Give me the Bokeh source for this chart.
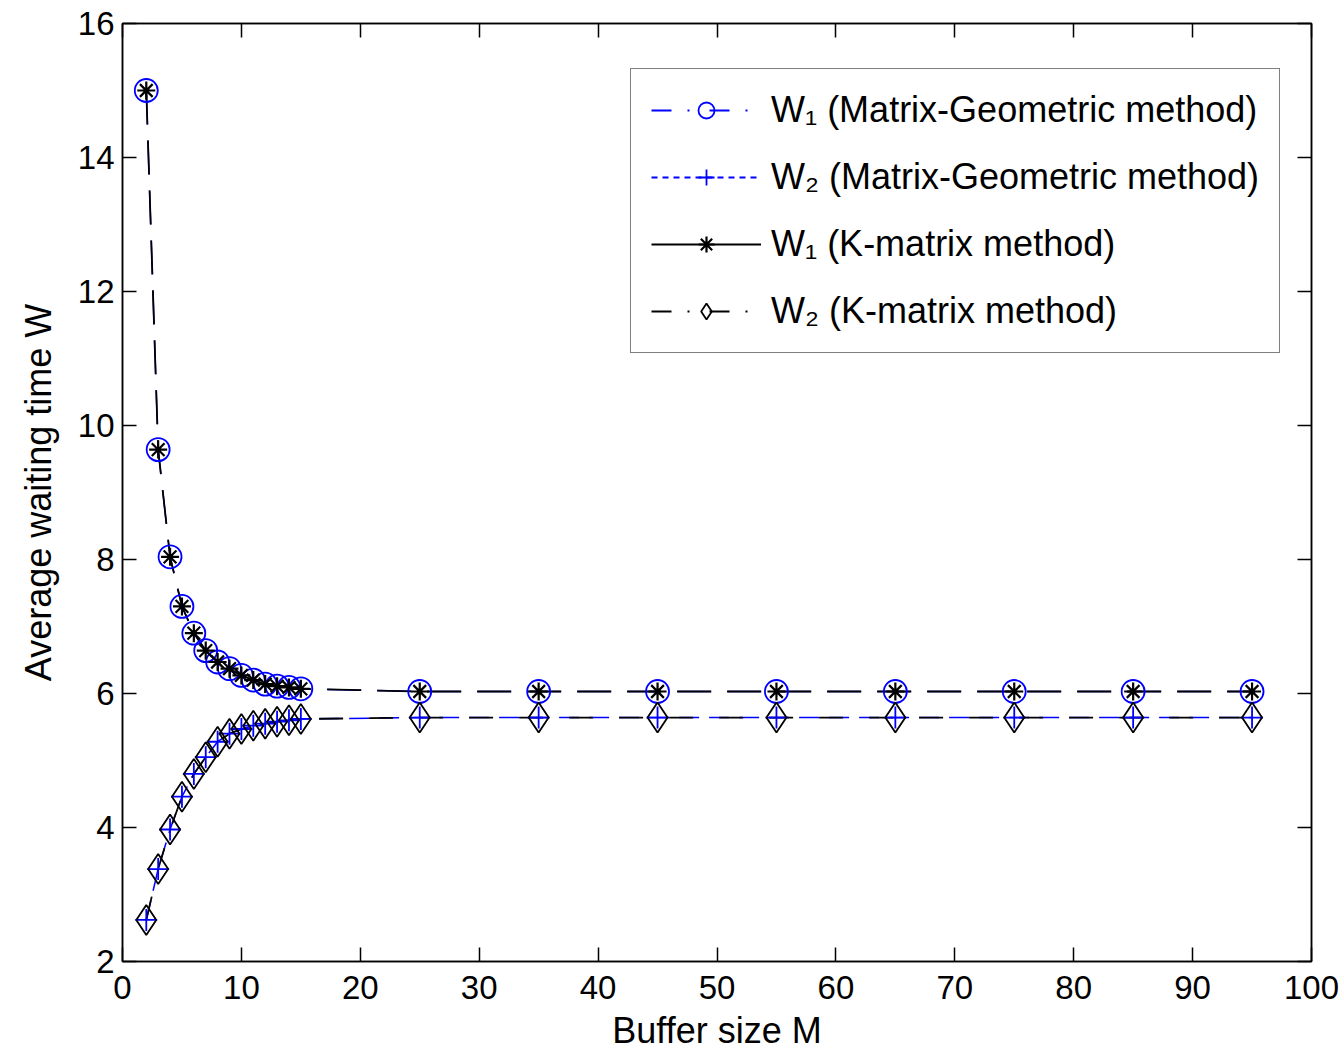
from bokeh.plotting import figure
from bokeh.models import ColumnDataSource, Legend, LegendItem, LinearAxis, Range1d, FixedTicker
from bokeh.embed import file_html
from bokeh.resources import INLINE

# ---- data ----
M = [2, 3, 4, 5, 6, 7, 8, 9, 10, 11, 12, 13, 14, 15, 25, 35, 45, 55, 65, 75, 85, 95]
W1_mg = [15.0, 9.64, 8.04, 7.30, 6.90, 6.64, 6.47, 6.37, 6.27, 6.20, 6.14, 6.11, 6.09, 6.07,
         6.03, 6.03, 6.03, 6.03, 6.03, 6.03, 6.03, 6.03]
W2_mg = [2.62, 3.38, 3.97, 4.46, 4.80, 5.05, 5.28, 5.40, 5.47, 5.52, 5.55, 5.58, 5.60, 5.62,
         5.64, 5.64, 5.64, 5.64, 5.64, 5.64, 5.64, 5.64]
W1_k = list(W1_mg)
W2_k = list(W2_mg)
x_ticks = [0, 10, 20, 30, 40, 50, 60, 70, 80, 90, 100]
y_ticks = [2, 4, 6, 8, 10, 12, 14, 16]
labels = ["W\u2081 (Matrix-Geometric method)", "W\u2082 (Matrix-Geometric method)",
          "W\u2081 (K-matrix method)", "W\u2082 (K-matrix method)"]

FONT = "Liberation Sans"

src = ColumnDataSource(dict(M=M, w1mg=W1_mg, w2mg=W2_mg, w1k=W1_k, w2k=W2_k))
nan_src = ColumnDataSource(dict(x=[float("nan")], y=[float("nan")]))

p = figure(frame_width=1189, frame_height=938, output_backend="svg", toolbar_location=None,
           x_range=Range1d(0, 100), y_range=Range1d(2, 16),
           min_border_left=122, min_border_right=30, min_border_top=23, min_border_bottom=90)
p.background_fill_color = "white"
p.border_fill_color = "white"
p.outline_line_color = "black"
p.outline_line_width = 1.5
p.xgrid.visible = False
p.ygrid.visible = False

for ax in (p.xaxis[0], p.yaxis[0]):
    ax.major_tick_in = 14
    ax.major_tick_out = 0
    ax.minor_tick_line_color = None
    ax.axis_line_width = 1.5
    ax.major_tick_line_width = 1.5
    ax.major_label_text_font = FONT
    ax.major_label_text_font_size = "33px"
    ax.major_label_text_color = "black"
    ax.axis_label_text_font = FONT
    ax.axis_label_text_font_size = "36px"
    ax.axis_label_text_font_style = "normal"
    ax.axis_label_text_color = "black"

p.xaxis.ticker = FixedTicker(ticks=x_ticks)
p.yaxis.ticker = FixedTicker(ticks=y_ticks)
p.xaxis.axis_label = "Buffer size M"
p.yaxis.axis_label = "Average waiting time W"
p.xaxis.major_label_standoff = 14
p.xaxis.axis_label_standoff = 8
p.yaxis.major_label_standoff = 8
p.yaxis.axis_label_standoff = 16

for loc, ticks in (("above", x_ticks), ("right", y_ticks)):
    a = LinearAxis(ticker=FixedTicker(ticks=ticks), major_tick_in=14, major_tick_out=0,
                   minor_tick_line_color=None, major_label_text_color=None,
                   major_label_text_font_size="8px",
                   major_label_standoff=0, axis_line_width=1.5, major_tick_line_width=1.5)
    p.add_layout(a, loc)

# lines (plot)
p.line("M", "w1mg", source=src, line_color="blue", line_width=1.5, line_dash="34 16")
p.line("M", "w2mg", source=src, line_color="blue", line_width=1.5, line_dash="20 10")
p.line("M", "w1k", source=src, line_color="black", line_width=1.8, line_dash="34 16")
p.line("M", "w2k", source=src, line_color="black", line_width=1.8, line_dash="24 26")

# markers
r1 = p.scatter("M", "w1mg", source=src, marker="circle", size=23, fill_color=None,
               line_color="blue", line_width=1.8)
r2 = p.scatter("M", "w2mg", source=src, marker="cross", size=22,
               line_color="blue", line_width=1.8)
r3 = p.scatter("M", "w1k", source=src, marker="asterisk", size=18,
               line_color="black", line_width=2.2)
r4 = p.scatter("M", "w2k", source=src, marker="diamond", size=30, fill_color=None,
               line_color="black", line_width=1.8)

# legend-only line styles
g1 = p.line("x", "y", source=nan_src, line_color="blue", line_width=1.8, line_dash="20 16 2 20")
g2 = p.line("x", "y", source=nan_src, line_color="blue", line_width=1.8, line_dash="6 5")
g3 = p.line("x", "y", source=nan_src, line_color="black", line_width=1.8)
g4 = p.line("x", "y", source=nan_src, line_color="black", line_width=1.8, line_dash="20 16 2 20")

legend = Legend(items=[
    LegendItem(label=labels[0], renderers=[g1, r1]),
    LegendItem(label=labels[1], renderers=[g2, r2]),
    LegendItem(label=labels[2], renderers=[g3, r3]),
    LegendItem(label=labels[3], renderers=[g4, r4]),
], location=(508, 608))
legend.label_text_font = FONT
legend.label_text_font_size = "36px"
legend.label_text_color = "black"
legend.glyph_width = 110
legend.glyph_height = 40
legend.label_height = 40
legend.label_standoff = 10
legend.spacing = 25
legend.padding = 20
legend.margin = 0
legend.border_line_color = "black"
legend.border_line_width = 1.5
legend.background_fill_color = "white"
legend.background_fill_alpha = 1
p.add_layout(legend, "center")

open("out.html", "w").write(file_html(p, INLINE))
